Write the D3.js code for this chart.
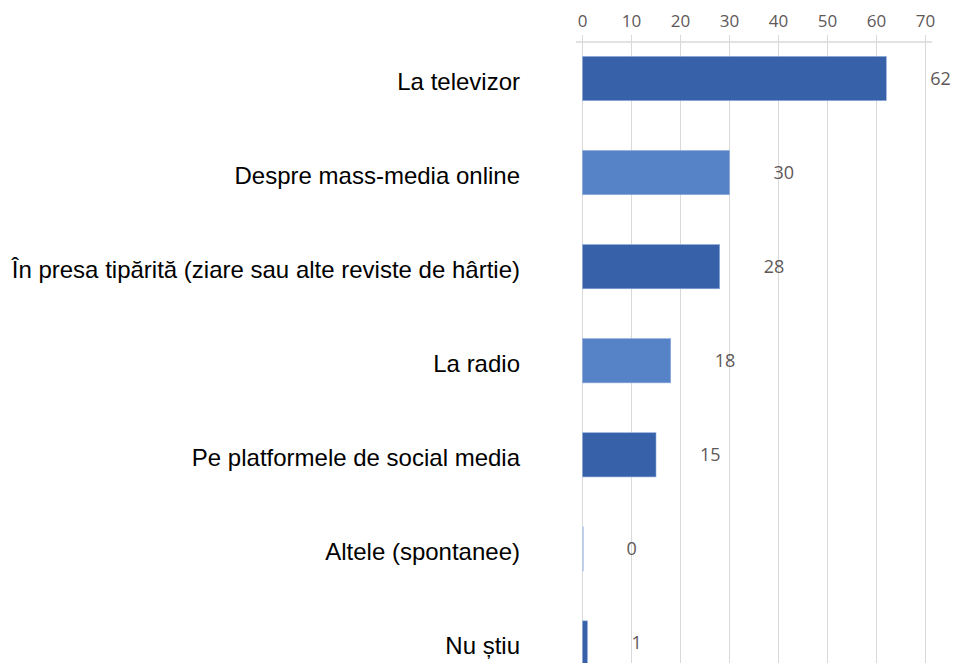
<!DOCTYPE html>
<html><head><meta charset="utf-8">
<script src="https://cdn.jsdelivr.net/npm/d3@7/dist/d3.min.js"></script>
<style>body{margin:0;background:#fff}svg{display:block}</style>
</head><body>
<svg id="c" width="960" height="663"></svg>
<script>
const categories = ["La televizor","Despre mass-media online","În presa tipărită (ziare sau alte reviste de hârtie)","La radio","Pe platformele de social media","Altele (spontanee)","Nu știu"];
const values = [62,30,28,18,15,0,1];
const tickValues = [0,10,20,30,40,50,60,70];
const barColors = ["#3762AA","#5682C8","#3762AA","#5682C8","#3762AA","#B4C7E7","#3762AA"];

const svg = d3.select("#c");
const x = d3.scaleLinear().domain([0,70]).range([582.5,925.5]);
const y = d3.scaleBand().domain(categories).range([31.5,690]).paddingInner(0.53).paddingOuter(0.265);

// gridlines
svg.append("g").selectAll("line").data(tickValues).join("line")
  .attr("x1",d=>x(d)).attr("x2",d=>x(d)).attr("y1",35).attr("y2",663)
  .attr("stroke","#d9d9d9").attr("stroke-width",1);
// axis line
svg.append("line").attr("x1",576).attr("x2",932).attr("y1",42).attr("y2",42)
  .attr("stroke","#d9d9d9").attr("stroke-width",1.5);
// tick labels
svg.append("g").selectAll("text").data(tickValues).join("text")
  .attr("x",d=>x(d)).attr("y",27).attr("text-anchor","middle")
  .attr("font-family","'Open Sans', sans-serif").attr("font-size",17)
  .attr("fill","#605858").text(d=>d);

// bars
svg.append("g").selectAll("rect").data(values).join("rect")
  .attr("x",x(0)).attr("y",(d,i)=>y(categories[i]))
  .attr("width",d=>Math.max(x(d)-x(0),1)).attr("height",y.bandwidth())
  .attr("fill",(d,i)=>barColors[i])
  .attr("stroke",(d,i)=>d===0?"#B4C7E7":"#8eaadb").attr("stroke-width",0.6);

// value labels
svg.append("g").selectAll("text").data(values).join("text")
  .attr("x",d=>x(d)+44).attr("y",(d,i)=>y(categories[i])+y.bandwidth()/2)
  .attr("dy","0.35em").attr("text-anchor","start")
  .attr("font-family","'Open Sans', sans-serif").attr("font-size",18)
  .attr("fill","#605858").text(d=>d);

// category labels
svg.append("g").selectAll("text").data(categories).join("text")
  .attr("x",520).attr("y",d=>y(d)+y.bandwidth()/2+3)
  .attr("dy","0.35em").attr("text-anchor","end")
  .attr("font-family","'Liberation Sans', Arial, sans-serif").attr("font-size",24)
  .attr("fill","#000").text(d=>d);
</script>
</body></html>
